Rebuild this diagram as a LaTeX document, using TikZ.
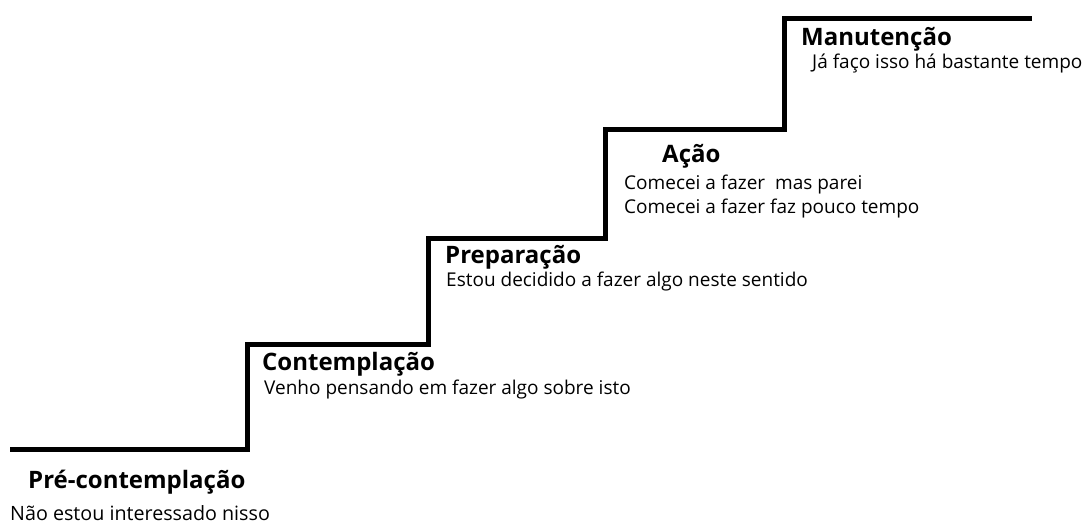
\documentclass[tikz,border=0pt]{standalone}
\usepackage{fontspec}
\setmainfont{Open Sans}
\begin{document}
\begin{tikzpicture}[x=1pt,y=-1pt,
	stage/.style={anchor=base west,inner sep=0pt,font=\fontsize{24}{28}\selectfont\bfseries},
	note/.style={anchor=base west,inner sep=0pt,font=\fontsize{19}{23}\selectfont}]
	\useasboundingbox (0,0) rectangle (1089,525);
	% escada
	\draw[line width=5pt,line join=miter]
	(10,449) -- (247,449) -- (247,344) -- (428,344) -- (428,238)
	-- (605,238) -- (605,129) -- (784,129) -- (784,18) -- (1032,18);
	% etapas
	\node[stage] (pre) at (28,488) {Pré-contemplação};
	\node[note,font=\fontsize{19.7}{23}\selectfont] (prenote) at (10,520) {Não estou interessado nisso};
	\node[stage] (cont) at (262,370) {Contemplação};
	\node[note] (contnote) at (264,394) {Venho pensando em fazer algo sobre isto};
	\node[stage] (prep) at (445,263) {Preparação};
	\node[note] (prepnote) at (446,286) {Estou decidido a fazer algo neste sentido};
	\node[stage] (acao) at (662,162) {Ação};
	\node[note] (acaonoteA) at (624,189) {Comecei a fazer~~mas parei};
	\node[note] (acaonoteB) at (624,213) {Comecei a fazer faz pouco tempo};
	\node[stage] (manut) at (801,45) {Manutenção};
	\node[note] (manutnote) at (812,68) {Já faço isso há bastante tempo};
\end{tikzpicture}
\end{document}
